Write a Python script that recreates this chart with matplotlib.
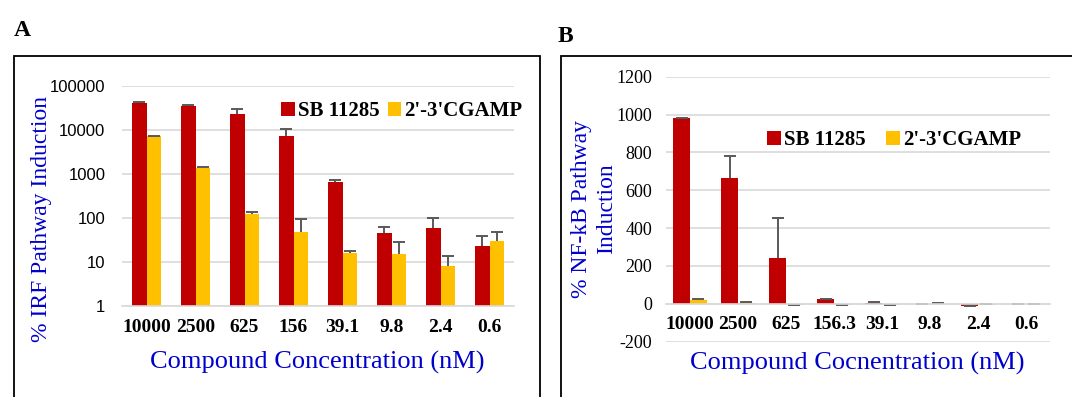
import matplotlib
matplotlib.use("Agg")
import matplotlib.pyplot as plt
import numpy as np
from matplotlib.patches import Rectangle

categories_a = ["10000", "2500", "625", "156", "39.1", "9.8", "2.4", "0.6"]
categories_b = ["10000", "2500", "625", "156.3", "39.1", "9.8", "2.4", "0.6"]
series_names = ["SB 11285", "2'-3'CGAMP"]

# Panel A (IRF, log scale)
irf_sb = [41700, 35700, 22700, 7200, 650, 45, 58, 23.5]
irf_sb_err = [600, 600, 6800, 3100, 90, 16, 42, 14.5]
irf_cg = [7300, 1345, 121, 49, 16.3, 15.5, 8.1, 29.5]
irf_cg_err = [80, 95, 13, 48, 1.2, 13.5, 5.6, 18.5]

# Panel B (NF-kB, linear)
nfkb_sb = [980, 663, 243, 23, 2, -3, -12, -3]
nfkb_sb_err = [3, 118, 208, 5, 8, 1, 1, 1]
nfkb_cg = [21, 7, -8, -5, -7, 1, -4, -3]
nfkb_cg_err = [3, 1, 1, 1, 1, 3, 1, 1]

yticks_a = [1, 10, 100, 1000, 10000, 100000]
yticks_b = [-200, 0, 200, 400, 600, 800, 1000, 1200]

RED = "#C00000"
YEL = "#FFC000"
ERR = "#595959"
GRID = "#D9D9D9"
BLUE = "#0000CC"
SERIF = "Liberation Serif"
SANS = "Liberation Sans"

W, H = 1072, 397
fig = plt.figure(figsize=(W / 100, H / 100), dpi=100)

def fx(px):
    return px / W

def fy(py):
    return 1 - py / H

# panel boxes
fig.patches.append(Rectangle((fx(14), fy(420)), fx(540) - fx(14), fy(56) - fy(420),
                             transform=fig.transFigure, fill=False, ec="black", lw=1.3))
fig.patches.append(Rectangle((fx(561), fy(420)), fx(1100) - fx(561), fy(56) - fy(420),
                             transform=fig.transFigure, fill=False, ec="black", lw=1.3))

fig.text(fx(14), fy(31), "A", fontsize=17, fontweight="bold", family=SERIF, va="center", ha="left")
fig.text(fx(558), fy(36), "B", fontsize=17, fontweight="bold", family=SERIF, va="center", ha="left")

def style_axes(ax):
    for s in ["top", "right", "left"]:
        ax.spines[s].set_visible(False)
    ax.spines["bottom"].set_color(GRID)
    ax.spines["bottom"].set_linewidth(1.2)
    ax.yaxis.grid(True, color=GRID, lw=1.2)
    ax.set_axisbelow(True)
    ax.tick_params(axis="both", length=0)

def hide_lower_caps(container):
    caps = container.errorbar.lines[1]
    if len(caps) == 2:
        a, b = caps
        ya = np.asarray(a.get_ydata(), dtype=float)
        yb = np.asarray(b.get_ydata(), dtype=float)
        if np.nanmean(ya) <= np.nanmean(yb):
            a.set_visible(False)
        else:
            b.set_visible(False)

ekw = dict(ecolor=ERR, elinewidth=1.4, capsize=4, capthick=1.4)

# ---------- Panel A ----------
axA = fig.add_axes([fx(122), fy(306), fx(514) - fx(122), fy(86) - fy(306)])
x = np.arange(len(categories_a))
bw = 0.306
bA1 = axA.bar(x - bw / 2, irf_sb, bw, color=RED, label=series_names[0],
              yerr=[np.zeros(8), irf_sb_err], error_kw=ekw)
bA2 = axA.bar(x + bw / 2, irf_cg, bw, color=YEL, label=series_names[1],
              yerr=[np.zeros(8), irf_cg_err], error_kw=ekw)
hide_lower_caps(bA1)
hide_lower_caps(bA2)
axA.set_yscale("log")
axA.set_ylim(1, 100000)
axA.set_xlim(-0.5, 7.5)
axA.set_yticks(yticks_a)
axA.set_yticklabels([str(v) for v in yticks_a], family=SANS, fontsize=12)
axA.yaxis.set_minor_locator(matplotlib.ticker.NullLocator())
axA.set_xticks(x)
axA.set_xticklabels(categories_a, family=SERIF, fontweight="bold", fontsize=14)
style_axes(axA)
axA.tick_params(axis="y", pad=12)
axA.tick_params(axis="x", pad=9)
axA.legend(handles=[bA1, bA2], loc="center left", bbox_to_anchor=(fx(281), fy(111)),
           bbox_transform=fig.transFigure, ncol=2, frameon=False,
           prop=dict(family=SERIF, weight="bold", size=15),
           handlelength=0.65, handleheight=0.65, handletextpad=0.15,
           columnspacing=0.4, borderpad=0, borderaxespad=0)
fig.text(fx(317), fy(362), "Compound Concentration (nM)", family=SERIF, fontsize=19,
         color=BLUE, ha="center", va="center")
fig.text(fx(42), fy(219), "% IRF Pathway Induction", family=SERIF, fontsize=17,
         color=BLUE, ha="center", va="center", rotation=90)

# ---------- Panel B ----------
axB = fig.add_axes([fx(666), fy(341.7), fx(1050) - fx(666), fy(76.7) - fy(341.7)])
bw2 = 0.35
bB1 = axB.bar(x - bw2 / 2, nfkb_sb, bw2, color=RED, label=series_names[0],
              yerr=[np.zeros(8), nfkb_sb_err], error_kw=ekw)
bB2 = axB.bar(x + bw2 / 2, nfkb_cg, bw2, color=YEL, label=series_names[1],
              yerr=[np.zeros(8), nfkb_cg_err], error_kw=ekw)
hide_lower_caps(bB1)
hide_lower_caps(bB2)
style_axes(axB)
axB.spines["bottom"].set_position(("data", 0))
axB.set_ylim(-200, 1200)
axB.set_xlim(-0.5, 7.5)
axB.set_yticks(yticks_b)
axB.set_yticklabels([str(v) for v in yticks_b], family=SERIF, fontsize=13)
axB.set_xticks(x)
axB.set_xticklabels(categories_b, family=SERIF, fontweight="bold", fontsize=14)
axB.tick_params(axis="both", length=0)
axB.tick_params(axis="y", pad=10)
axB.tick_params(axis="x", pad=9)
axB.legend(handles=[bB1, bB2], loc="center left", bbox_to_anchor=(fx(767), fy(140)),
           bbox_transform=fig.transFigure, ncol=2, frameon=False,
           prop=dict(family=SERIF, weight="bold", size=15),
           handlelength=0.65, handleheight=0.65, handletextpad=0.15,
           columnspacing=1.0, borderpad=0, borderaxespad=0)
fig.text(fx(857), fy(363), "Compound Cocnentration (nM)", family=SERIF, fontsize=19,
         color=BLUE, ha="center", va="center")
fig.text(fx(582), fy(209), "% NF-kB Pathway", family=SERIF, fontsize=17,
         color=BLUE, ha="center", va="center", rotation=90)
fig.text(fx(607), fy(209), "Induction", family=SERIF, fontsize=17,
         color=BLUE, ha="center", va="center", rotation=90)

fig.savefig("out.png", dpi=100)
